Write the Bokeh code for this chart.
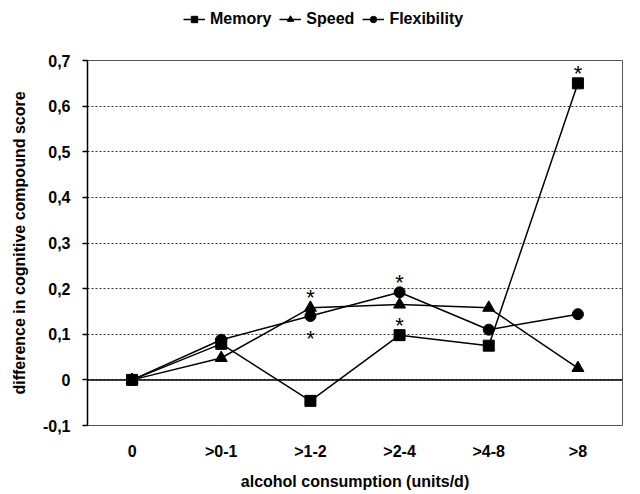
from bokeh.plotting import figure
from bokeh.layouts import column
from bokeh.models import (FactorRange, Range1d, FixedTicker, CustomJSTickFormatter,
                          Span, Legend, LegendItem, ColumnDataSource)
from bokeh.core.properties import value
from bokeh.embed import file_html
from bokeh.resources import INLINE

categories = ["0", ">0-1", ">1-2", ">2-4", ">4-8", ">8"]
memory = [0.0, 0.079, -0.046, 0.098, 0.075, 0.650]
speed = [0.0, 0.048, 0.158, 0.165, 0.158, 0.026]
flexibility = [0.0, 0.088, 0.140, 0.192, 0.110, 0.144]
y_ticks = [-0.1, 0.0, 0.1, 0.2, 0.3, 0.4, 0.5, 0.6, 0.7]

# significance asterisks: which category / series, and whether drawn above or below the point
sig_categories = [">1-2", ">1-2", ">2-4", ">2-4", ">8"]
sig_series = ["speed", "flexibility", "flexibility", "memory", "memory"]
sig_side = ["above", "below", "above", "above", "above"]

FONT = "Liberation Sans"

p = figure(width=640, height=454,
           x_range=FactorRange(*categories), y_range=Range1d(-0.1, 0.7),
           output_backend="svg", toolbar_location=None,
           min_border_left=87, min_border_right=18, min_border_top=20, min_border_bottom=69)

p.background_fill_color = "white"
p.outline_line_color = "#555555"
p.outline_line_width = 1

p.xgrid.visible = False
p.ygrid.ticker = FixedTicker(ticks=y_ticks)
p.ygrid.grid_line_color = "#333333"
p.ygrid.grid_line_dash = "2 2"
p.ygrid.grid_line_width = 1

# y axis
p.yaxis.ticker = FixedTicker(ticks=y_ticks)
p.yaxis.formatter = CustomJSTickFormatter(code="""
const s = tick.toFixed(1);
if (s === '0.0' || s === '-0.0') return '0';
return s.replace('.', ',');
""")
p.yaxis.axis_label = "difference in cognitive compound score"
p.yaxis.axis_line_color = "black"
p.yaxis.axis_line_width = 1.5
p.yaxis.major_tick_out = 5
p.yaxis.major_tick_in = 0
p.yaxis.major_tick_line_color = "black"
p.yaxis.major_tick_line_width = 1.5
p.yaxis.minor_tick_line_color = None
p.yaxis.major_label_standoff = 12
p.yaxis.axis_label_standoff = 12

# x axis
p.xaxis.axis_label = "alcohol consumption (units/d)"
p.xaxis.axis_line_color = None
p.xaxis.major_tick_line_color = None
p.xaxis.major_tick_out = 0
p.xaxis.major_label_standoff = 17
p.xaxis.axis_label_standoff = 10

for ax in (p.xaxis, p.yaxis):
    ax.major_label_text_font = FONT
    ax.major_label_text_font_style = "bold"
    ax.major_label_text_font_size = "16px"
    ax.major_label_text_color = "black"
    ax.axis_label_text_font = FONT
    ax.axis_label_text_font_style = "bold"
    ax.axis_label_text_font_size = "16px"
    ax.axis_label_text_color = "black"

p.add_layout(Span(location=0, dimension="width", line_color="black", line_width=1.5))

series = {"memory": memory, "speed": speed, "flexibility": flexibility}
markers = {"memory": ("square", 11), "speed": ("triangle", 12), "flexibility": ("circle", 11)}
names = {"memory": "Memory", "speed": "Speed", "flexibility": "Flexibility"}

# legend strip above the chart (uses the same sources and glyph styles)
lg = figure(width=640, height=40, x_range=FactorRange(*categories), y_range=Range1d(-0.1, 0.7),
            x_axis_type=None, y_axis_type=None, output_backend="svg", toolbar_location=None,
            min_border=0)
lg.outline_line_color = None
lg.xgrid.visible = False
lg.ygrid.visible = False

items = []
for key in ["memory", "speed", "flexibility"]:
    src = ColumnDataSource(dict(x=categories, y=series[key]))
    p.line("x", "y", source=src, line_color="black", line_width=1.5)
    mk, sz = markers[key]
    p.scatter("x", "y", source=src, marker=mk, size=sz,
              fill_color="black", line_color="black")
    ln = lg.line("x", "y", source=src, line_color="black", line_width=1.5, visible=False)
    sc = lg.scatter("x", "y", source=src, marker=mk, size=sz, fill_color="black",
                    line_color="black", visible=False)
    items.append(LegendItem(label=names[key], renderers=[ln, sc]))

# asterisks
for side, off in (("above", -15), ("below", 17)):
    xs, ys = [], []
    for c, s, sd in zip(sig_categories, sig_series, sig_side):
        if sd == side:
            xs.append(c)
            ys.append(series[s][categories.index(c)])
    src = ColumnDataSource(dict(x=xs, y=ys, t=["*"] * len(xs)))
    p.text("x", "y", text="t", source=src, text_align="center", text_baseline="middle",
           y_offset=off + 5, text_font=value("Liberation Sans"), text_font_size="22px",
           text_color="black")

legend = Legend(items=items, location=(96, 12), orientation="horizontal",
                background_fill_alpha=0, border_line_color=None,
                label_text_font=FONT, label_text_font_style="bold",
                label_text_font_size="16px", label_text_color="black",
                glyph_width=22, glyph_height=16, spacing=8, padding=0, margin=0,
                label_standoff=5, inactive_fill_alpha=0, click_policy="none")
lg.add_layout(legend)

layout = column(lg, p, spacing=0)
open("out.html", "w").write(file_html(layout, INLINE))
